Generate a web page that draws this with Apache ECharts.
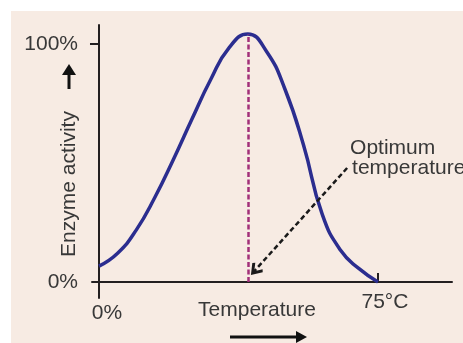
<!DOCTYPE html>
<html><head><meta charset="utf-8">
<script src="https://cdn.jsdelivr.net/npm/echarts@6/dist/echarts.min.js"></script>
<style>html,body{margin:0;padding:0;background:#fff}#c{width:463px;height:343px}</style>
</head><body><div id="c"></div>
<script>
// Data
const temperature = [0, 5, 10, 15, 20, 25, 30, 35, 40, 45, 50, 55, 60, 65, 70, 75];
const activity =    [6.7, 12.1, 21.8, 35.5, 51.5, 68.5, 85.0, 98.5, 104.2, 97.0, 81.0, 57.5, 28.5, 13.2, 5.5, 0];
const optimumTemp = 40;
const optimumActivity = 104.2;
const yTickValues = [0, 100];
const yTickLabels = ['0%', '100%'];
const xTickValues = [0, 75];
const xTickLabels = ['0%', '75°C'];
const annotationText = ['Optimum', 'temperature'];
const annotationFrom = [66.7, 47.9];
const annotationTo = [41.2, 3.6];

const chart = echarts.init(document.getElementById('c'));
const FONT = 'Liberation Sans, Arial, sans-serif';
const TXT = '#383838';
const AX = '#231f20';

const option = {
  animation: false,
  backgroundColor: '#fff',
  grid: { left: 92, right: 11, top: 25, bottom: 45 },
  xAxis: {
    type: 'value', min: -1.88, max: 94.9,
    axisLine: { show: true, onZero: true, lineStyle: { color: AX, width: 2 } },
    axisTick: { show: true, inside: true, length: 9, customValues: [75], lineStyle: { color: AX, width: 2 } },
    axisLabel: { show: false },
    splitLine: { show: false }
  },
  yAxis: {
    type: 'value', min: -6.72, max: 108,
    axisLine: { show: true, onZero: true, lineStyle: { color: AX, width: 2 } },
    axisTick: { show: true, length: 9, customValues: [100], lineStyle: { color: AX, width: 2 } },
    axisLabel: {
      show: true, customValues: yTickValues, margin: 14,
      formatter: v => yTickLabels[yTickValues.indexOf(v)],
      color: TXT, fontSize: 21, fontFamily: FONT
    },
    splitLine: { show: false }
  },
  series: [{
    type: 'line',
    data: temperature.map((t, i) => [t, activity[i]]),
    smooth: 0.5,
    showSymbol: false,
    lineStyle: { color: '#2b2d8f', width: 3.5 },
    markLine: {
      silent: true, symbol: ['none', 'none'],
      label: { show: false },
      data: [[
        { coord: [optimumTemp, 0], lineStyle: { color: '#a2307a', width: 2.5, type: [5, 2.5] } },
        { coord: [optimumTemp, optimumActivity] }
      ], [
        { coord: annotationFrom, symbol: 'none', lineStyle: { color: '#1a1a1a', width: 2.5, type: [5, 3] } },
        { coord: annotationTo, symbol: 'path://M10,0 L20,14 L17,17 L10,7 L3,17 L0,14 Z', symbolSize: [14, 12], symbolOffset: [0, 4] }
      ]]
    },
    z: 3
  }],
  graphic: []
};
chart.setOption(option);

const px = (x, y) => chart.convertToPixel({ gridIndex: 0 }, [x, y]);
const p0 = px(xTickValues[0], 0), p75 = px(xTickValues[1], 0);
const ann = px(annotationFrom[0], annotationFrom[1]);
chart.setOption({
  graphic: [
    { type: 'rect', shape: { x: 11, y: 11, width: 452, height: 332 }, style: { fill: '#f7ebe3' }, z: -10, silent: true },
    { type: 'text', x: p0[0] + 8, y: p0[1] + 31, style: { text: xTickLabels[0], fill: TXT, font: '21px ' + FONT, align: 'center', verticalAlign: 'middle' } },
    { type: 'text', x: p75[0] + 7, y: p75[1] + 20, style: { text: xTickLabels[1], fill: TXT, font: '21px ' + FONT, align: 'center', verticalAlign: 'middle' } },
    { type: 'text', x: 257, y: 310, style: { text: 'Temperature', fill: TXT, font: '21px ' + FONT, align: 'center', verticalAlign: 'middle' } },
    { type: 'text', x: 69, y: 184, rotation: Math.PI / 2, style: { text: 'Enzyme activity', fill: TXT, font: '21px ' + FONT, align: 'center', verticalAlign: 'middle' } },
    { type: 'text', x: ann[0] + 3, y: ann[1] - 20, style: { text: annotationText[0], fill: TXT, font: '21px ' + FONT, align: 'left', verticalAlign: 'middle' } },
    { type: 'text', x: ann[0] + 5, y: ann[1], style: { text: annotationText[1], fill: TXT, font: '21px ' + FONT, align: 'left', verticalAlign: 'middle' } },
    // up arrow
    { type: 'line', shape: { x1: 69, y1: 89, x2: 69, y2: 72 }, style: { stroke: '#111', lineWidth: 3 } },
    { type: 'polygon', shape: { points: [[69, 64], [62, 75], [76, 75]] }, style: { fill: '#111' } },
    // right arrow
    { type: 'line', shape: { x1: 230, y1: 337, x2: 298, y2: 337 }, style: { stroke: '#111', lineWidth: 3 } },
    { type: 'polygon', shape: { points: [[307, 337], [296, 331], [296, 343]] }, style: { fill: '#111' } }
  ]
});
</script></body></html>
